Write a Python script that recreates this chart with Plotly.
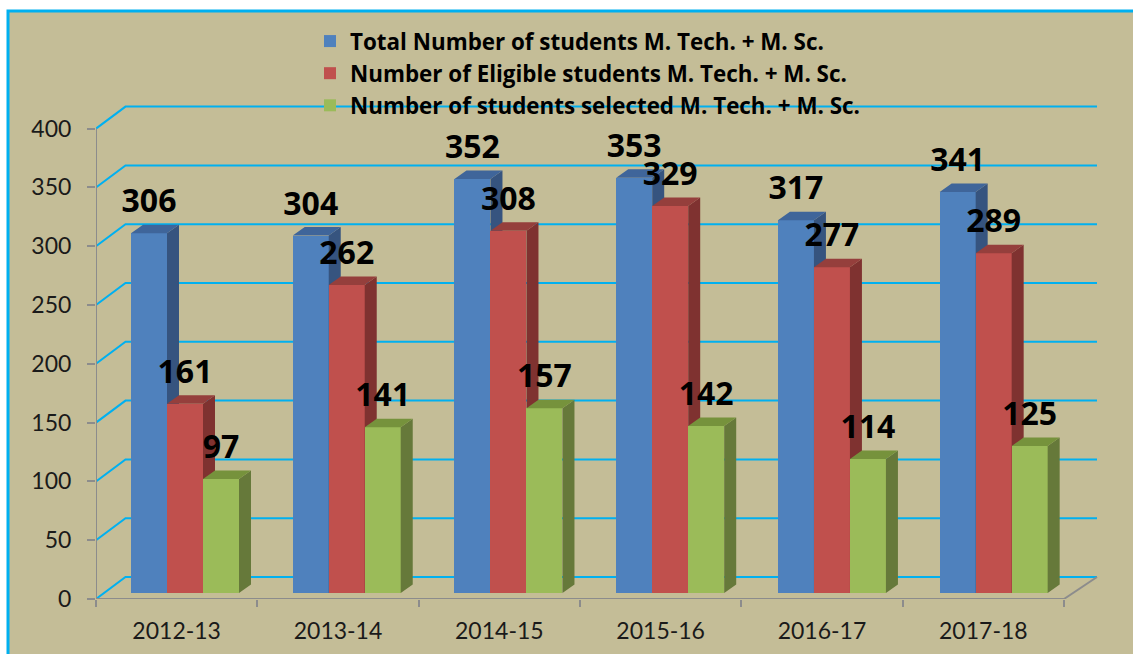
import plotly.graph_objects as go

# ---- data ----
categories = ["2012-13", "2013-14", "2014-15", "2015-16", "2016-17", "2017-18"]
total_students = [306, 304, 352, 353, 317, 341]
eligible_students = [161, 262, 308, 329, 277, 289]
selected_students = [97, 141, 157, 142, 114, 125]
y_ticks = [0, 50, 100, 150, 200, 250, 300, 350, 400]

series_names = [
    "Total Number of students M. Tech. + M. Sc.",
    "Number of Eligible students M. Tech. + M. Sc.",
    "Number of students selected M. Tech. + M. Sc.",
]
front_colors = ["#4f81bd", "#c0504d", "#9bbb59"]
side_colors = ["#36547f", "#7f3230", "#66793a"]
top_colors = ["#3f659a", "#953f3c", "#76923c"]

# ---- geometry of the fake 3-D box, in pixels of the reference ----
W, H = 1133, 654
L, R, T, B = 96, 33, 100, 55          # plot area margins
PX_PER_CAT = 161.33
PX_PER_UNIT = 1.176
plot_w, plot_h = W - L - R, H - T - B
x_max = plot_w / PX_PER_CAT
y_max = plot_h / PX_PER_UNIT


def dx(px):
    return px / PX_PER_CAT


def dy(px):
    return px / PX_PER_UNIT


WALL_X, WALL_Y = dx(29.5), dy(22)     # back wall shift
SIDE_X, SIDE_Y = dx(12), dy(8.5)      # bar depth
BAR_W = dx(36)
BAR_START = dx(35)
BAR_STEP = 1.0025
BASE = dy(6)                          # bars stand a little behind the front edge
LABEL_UP = dy(29)

CYAN = "#00b0f0"
GRAY = "#8c8c8c"
FONT = "Lato"
BOLD_FONT = "Open Sans"

fig = go.Figure()

# back wall gridlines and left-hand diagonals
gx, gy = [], []
for t in y_ticks:
    gx += [0, WALL_X, dx(1097 - L), None]
    gy += [t, t + WALL_Y, t + WALL_Y, None]
fig.add_trace(go.Scatter(x=gx, y=gy, mode="lines", line=dict(color=CYAN, width=2),
                         showlegend=False, hoverinfo="skip"))
# floor edge at the right
fig.add_trace(go.Scatter(x=[6, dx(1097 - L)], y=[0, WALL_Y], mode="lines",
                         line=dict(color=GRAY, width=2),
                         showlegend=False, hoverinfo="skip"))

all_series = [total_students, eligible_students, selected_students]
for s, values in enumerate(all_series):
    ax = str(s + 2)
    xa, ya = "x" + ax, "y" + ax
    lefts = [BAR_START + i * BAR_STEP + s * BAR_W for i in range(len(values))]
    centers = [v + BAR_W / 2 for v in lefts]
    sx, sy, tx, ty = [], [], [], []
    for left, v in zip(lefts, values):
        top = BASE + v
        right = left + BAR_W
        sx += [right, right + SIDE_X, right + SIDE_X, right, right, None]
        sy += [BASE, BASE + SIDE_Y, top + SIDE_Y, top, BASE, None]
        tx += [left, left + SIDE_X, right + SIDE_X, right, left, None]
        ty += [top, top + SIDE_Y, top + SIDE_Y, top, top, None]
    fig.add_trace(go.Bar(x=centers, y=values, base=BASE, width=BAR_W, name=series_names[s],
                         marker=dict(color=front_colors[s], line=dict(width=0)),
                         xaxis=xa, yaxis=ya, hoverinfo="y"))
    fig.add_trace(go.Scatter(x=sx, y=sy, mode="lines", fill="toself", fillcolor=side_colors[s],
                             line=dict(width=0), xaxis=xa, yaxis=ya,
                             showlegend=False, hoverinfo="skip"))
    fig.add_trace(go.Scatter(x=tx, y=ty, mode="lines", fill="toself", fillcolor=top_colors[s],
                             line=dict(width=0), xaxis=xa, yaxis=ya,
                             showlegend=False, hoverinfo="skip"))

# value labels, above everything
for s, values in enumerate(all_series):
    centers = [BAR_START + i * BAR_STEP + s * BAR_W + BAR_W / 2 for i in range(len(values))]
    fig.add_trace(go.Scatter(x=centers, y=[BASE + v + LABEL_UP for v in values],
                             mode="text", text=[str(v) for v in values],
                             textposition="middle center",
                             textfont=dict(family=BOLD_FONT, size=32, color="black", weight=700),
                             xaxis="x4", yaxis="y4", showlegend=False, hoverinfo="skip"))

overlay = dict(overlaying="x", range=[0, x_max], visible=False, fixedrange=True)
overlay_y = dict(overlaying="y", range=[0, y_max], visible=False, fixedrange=True)

fig.update_layout(
    width=W, height=H, autosize=False,
    margin=dict(l=L, r=R, t=T, b=B, pad=0, autoexpand=False),
    paper_bgcolor="white", plot_bgcolor="rgba(0,0,0,0)",
    font=dict(family=FONT, color="#1a1a1a", size=21),
    bargap=0,
    showlegend=True,
    legend=dict(x=(310 - L) / plot_w, xanchor="left", y=1 + (T - 20) / plot_h, yanchor="top",
                bgcolor="rgba(0,0,0,0)", borderwidth=0, traceorder="normal",
                font=dict(family=BOLD_FONT, size=22.4, color="black", weight=700)),
    xaxis=dict(range=[0, x_max], tickmode="array", automargin=False,
               tickvals=[i + 0.5 for i in range(len(categories))], ticktext=categories,
               ticks="", showgrid=False, zeroline=False, fixedrange=True,
               tickfont=dict(family=FONT, size=23, color="#1a1a1a"), ticklabelstandoff=16,
               minor=dict(tickmode="array", tickvals=list(range(len(categories) + 1)),
                          ticks="outside", ticklen=7, tickwidth=2, tickcolor=GRAY, showgrid=False)),
    yaxis=dict(range=[0, y_max], tickmode="array", tickvals=y_ticks, automargin=False,
               ticks="outside", ticklen=8, tickwidth=2, tickcolor=GRAY,
               showgrid=False, zeroline=False, showline=False,
               ticklabelstandoff=11,
               fixedrange=True, tickfont=dict(family=FONT, size=23, color="#1a1a1a")),
    xaxis2=overlay, yaxis2=overlay_y,
    xaxis3=overlay, yaxis3=overlay_y,
    xaxis4=overlay, yaxis4=overlay_y,
    shapes=[
        dict(type="rect", layer="below", xref="paper", yref="paper",
             x0=(8 - L) / plot_w, x1=(W + 20 - L) / plot_w,
             y0=-(B + 20) / plot_h, y1=1 + (T - 11) / plot_h,
             fillcolor="#c4bd97", line=dict(color=CYAN, width=3)),
        # front x axis line and left y axis line, ending at the last tick
        dict(type="line", layer="above", xref="x", yref="y",
             x0=0, x1=len(categories), y0=0, y1=0,
             line=dict(color=GRAY, width=2)),
        dict(type="line", layer="above", xref="x", yref="y",
             x0=0, x1=0, y0=0, y1=y_ticks[-1],
             line=dict(color=GRAY, width=2)),
    ],
)

fig.write_html("out.html", config={"displayModeBar": False},
               post_script="document.body.style.margin='0';")
